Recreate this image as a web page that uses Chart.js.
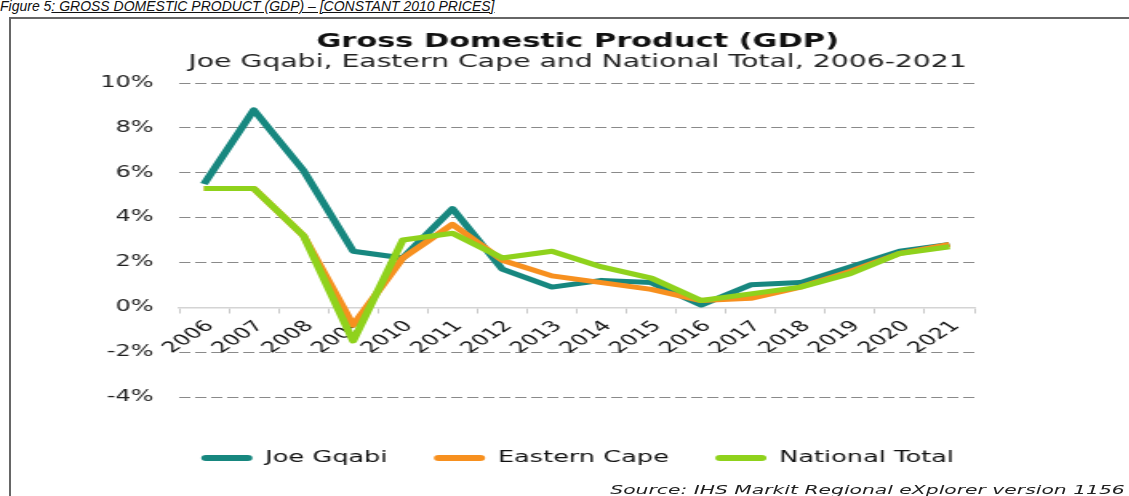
<!DOCTYPE html>
<html>
<head>
<meta charset="utf-8">
<script src="https://cdn.jsdelivr.net/npm/chart.js@4.4.1/dist/chart.umd.min.js"></script>
<style>
  body { margin: 0; background: #fff; width: 1129px; height: 496px; overflow: hidden; position: relative; }
  #caption { position: absolute; left: 0; top: -2px; font: italic 14px "Liberation Sans", Arial, sans-serif; color: #111; white-space: nowrap; }
  #frame { position: absolute; left: 9px; top: 17px; width: 1200px; height: 600px; border: 2px solid #666; }
  /* the source picture is stretched sideways, so the chart is drawn narrow and widened */
  #stretch { position: absolute; left: 0; top: 0; width: 706px; height: 496px; transform: scaleX(1.6); transform-origin: 0 0; }
  #myChart { position: absolute; left: 0; top: 0; }
  #source { position: absolute; right: 3px; top: 482px; font: italic 12.7px "DejaVu Sans", sans-serif; color: #222; white-space: nowrap; }
</style>
</head>
<body>
<div id="caption">Figure 5<u>: GROSS DOMESTIC PRODUCT (GDP) – [CONSTANT 2010 PRICES]</u></div>
<div id="frame"></div>
<div id="stretch">
  <canvas id="myChart" width="706" height="496"></canvas>
  <div id="source">Source: IHS Markit Regional eXplorer version 1156</div>
</div>
<script>
const years = ['2006', '2007', '2008', '2009', '2010', '2011', '2012', '2013',
  '2014', '2015', '2016', '2017', '2018', '2019', '2020', '2021']
const joeGqabi = [5.5, 8.8, 6.1, 2.5, 2.2, 4.4, 1.7, 0.9, 1.2, 1.1, 0.1, 1.0, 1.1, 1.8, 2.5, 2.8]
const easternCape = [5.3, 5.3, 3.2, -0.8, 2.2, 3.7, 2.1, 1.4, 1.1, 0.8, 0.3, 0.4, 0.9, 1.6, 2.4, 2.8]
const nationalTotal = [5.3, 5.3, 3.2, -1.5, 3.0, 3.3, 2.2, 2.5, 1.8, 1.3, 0.3, 0.6, 0.9, 1.5, 2.4, 2.7]
const yTicks = [-4, -2, 0, 2, 4, 6, 8, 10]

Chart.defaults.font.family = "'DejaVu Sans', Verdana, sans-serif"
Chart.defaults.color = '#222'

const ctx = document.getElementById('myChart')

const lineStyle = (label, data, color, order) => ({
  label: label,
  data: data,
  borderColor: color,
  backgroundColor: color,
  borderWidth: 5,
  pointRadius: 0,
  tension: 0,
  borderJoinStyle: 'round',
  order: order
})

new Chart(ctx, {
  type: 'line',
  data: {
    labels: years,
    datasets: [
      lineStyle('Joe Gqabi', joeGqabi, '#17877f', 3),
      lineStyle('Eastern Cape', easternCape, '#f7901f', 2),
      lineStyle('National Total', nationalTotal, '#8fd21c', 1)
    ]
  },
  options: {
    responsive: false,
    animation: false,
    layout: { padding: { left: 20, right: 4, top: 22, bottom: 20 } },
    scales: {
      x: {
        offset: true,
        position: { y: 0 },
        grid: { offset: true, drawOnChartArea: false, drawTicks: true, tickLength: 5, color: '#c8c8c8' },
        border: { display: true, color: '#d4d4d4', width: 1.5 },
        ticks: { minRotation: 45, maxRotation: 45, padding: 5, labelOffset: 4, font: { size: 15 }, color: '#111' }
      },
      // empty bottom axis: keeps a gap between the plot and the legend
      xGap: {
        position: 'bottom',
        afterFit: (scale) => { scale.height = 24 },
        grid: { display: false },
        border: { display: false },
        ticks: { display: false }
      },
      y: {
        min: -4,
        max: 10,
        afterFit: (scale) => { scale.width = 92 },
        afterBuildTicks: (scale) => { scale.ticks = yTicks.map(v => ({ value: v })) },
        grid: {
          drawTicks: false,
          color: (c) => (c.tick && c.tick.value === 0) ? 'rgba(0,0,0,0)' : '#8a8a8a',
          lineWidth: 1
        },
        border: { display: false, dash: [7, 3] },
        ticks: { padding: 16, font: { size: 15 }, color: '#222', callback: (v) => v + '%' }
      },
      // empty right-hand axis, only to keep the plot centred under the titles
      yRight: {
        position: 'right',
        afterFit: (scale) => { scale.width = 93 },
        grid: { display: false },
        border: { display: false },
        ticks: { display: false }
      }
    },
    plugins: {
      title: {
        display: true,
        text: 'Gross Domestic Product (GDP)',
        font: { size: 19, weight: 'bold', lineHeight: 1.0 },
        color: '#111',
        padding: { top: 10.5, bottom: 0 }
      },
      subtitle: {
        display: true,
        text: 'Joe Gqabi, Eastern Cape and National Total, 2006-2021',
        font: { size: 17.7, lineHeight: 1.0 },
        color: '#222',
        padding: { top: 2.5, bottom: 11.3 }
      },
      legend: {
        position: 'bottom',
        labels: {
          boxWidth: 32,
          boxHeight: 6,
          useBorderRadius: true,
          borderRadius: 3,
          padding: 29,
          color: '#111',
          font: { size: 16 },
          sort: (a, b) => a.datasetIndex - b.datasetIndex,
          generateLabels: (chart) => Chart.defaults.plugins.legend.labels.generateLabels(chart)
            .map(item => Object.assign(item, { lineWidth: 0 }))
        }
      },
      tooltip: { enabled: false }
    }
  }
})
</script>
</body>
</html>
